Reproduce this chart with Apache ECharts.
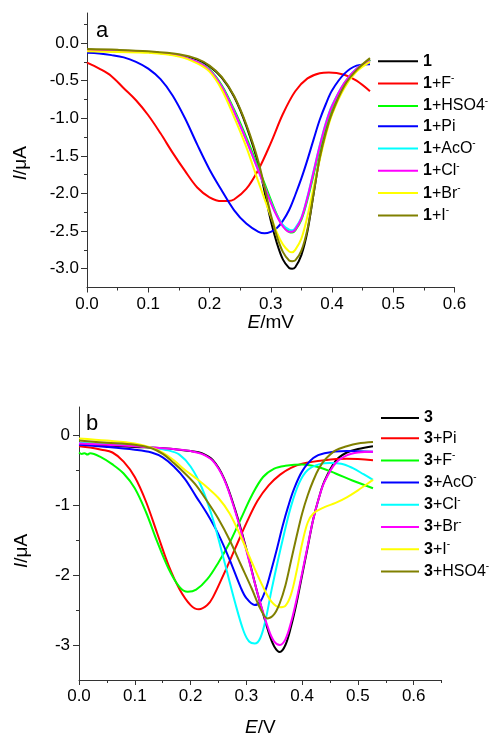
<!DOCTYPE html>
<html>
<head>
<meta charset="utf-8">
<script src="https://cdn.jsdelivr.net/npm/echarts@6.0.0/dist/echarts.min.js"></script>
<style>html,body{margin:0;padding:0;background:#fff}#c{width:493px;height:736px}</style>
</head>
<body>
<div id="c"></div>
<script>
// ---------- Panel a : names, colours, values ----------
const namesA = ['1', '1+F-', '1+HSO4-', '1+Pi', '1+AcO-', '1+Cl-', '1+Br-', '1+I-'];
const a_1 = [[0,-0.09],[0.05,-0.10],[0.10,-0.12],[0.15,-0.16],[0.18,-0.22],[0.20,-0.31],[0.22,-0.46],[0.24,-0.71],[0.26,-1.10],[0.28,-1.62],[0.30,-2.36],[0.31,-2.66],[0.32,-2.88],[0.33,-2.99],[0.335,-3.00],[0.34,-2.98],[0.35,-2.82],[0.36,-2.50],[0.37,-2.00],[0.38,-1.52],[0.39,-1.18],[0.40,-0.93],[0.42,-0.57],[0.44,-0.37],[0.462,-0.22]];
const a_F = [[0,-0.26],[0.02,-0.34],[0.04,-0.44],[0.06,-0.60],[0.08,-0.76],[0.10,-0.96],[0.12,-1.20],[0.14,-1.46],[0.16,-1.70],[0.18,-1.92],[0.20,-2.05],[0.22,-2.10],[0.23,-2.10],[0.24,-2.08],[0.26,-1.94],[0.28,-1.68],[0.30,-1.33],[0.32,-0.94],[0.34,-0.64],[0.36,-0.47],[0.38,-0.40],[0.395,-0.39],[0.42,-0.42],[0.44,-0.50],[0.462,-0.64]];
const a_HSO4 = [[0,-0.10],[0.05,-0.11],[0.10,-0.12],[0.15,-0.17],[0.18,-0.25],[0.20,-0.35],[0.22,-0.56],[0.24,-0.88],[0.26,-1.25],[0.28,-1.66],[0.30,-2.08],[0.31,-2.28],[0.32,-2.43],[0.33,-2.51],[0.335,-2.52],[0.34,-2.49],[0.35,-2.35],[0.36,-2.08],[0.37,-1.75],[0.38,-1.40],[0.39,-1.10],[0.40,-0.86],[0.42,-0.54],[0.44,-0.35],[0.462,-0.22]];
const a_Pi = [[0,-0.13],[0.02,-0.14],[0.04,-0.16],[0.06,-0.19],[0.08,-0.25],[0.10,-0.34],[0.12,-0.48],[0.14,-0.70],[0.16,-1.00],[0.18,-1.35],[0.20,-1.68],[0.22,-1.96],[0.24,-2.22],[0.26,-2.40],[0.28,-2.51],[0.29,-2.53],[0.30,-2.51],[0.31,-2.46],[0.32,-2.36],[0.33,-2.22],[0.34,-2.02],[0.35,-1.80],[0.36,-1.55],[0.37,-1.28],[0.38,-1.02],[0.39,-0.81],[0.40,-0.63],[0.42,-0.41],[0.44,-0.30],[0.462,-0.28]];
const a_AcO = [[0,-0.10],[0.05,-0.11],[0.10,-0.12],[0.15,-0.17],[0.18,-0.25],[0.20,-0.36],[0.22,-0.58],[0.24,-0.91],[0.26,-1.29],[0.28,-1.70],[0.30,-2.11],[0.31,-2.29],[0.32,-2.42],[0.33,-2.48],[0.335,-2.49],[0.34,-2.46],[0.35,-2.32],[0.36,-2.04],[0.37,-1.70],[0.38,-1.36],[0.39,-1.06],[0.40,-0.83],[0.42,-0.53],[0.44,-0.34],[0.462,-0.24]];
const a_Cl = [[0,-0.10],[0.05,-0.11],[0.10,-0.12],[0.15,-0.17],[0.18,-0.25],[0.20,-0.36],[0.22,-0.58],[0.24,-0.91],[0.26,-1.29],[0.28,-1.70],[0.30,-2.12],[0.31,-2.30],[0.32,-2.44],[0.33,-2.51],[0.335,-2.51],[0.34,-2.48],[0.35,-2.33],[0.36,-2.05],[0.37,-1.71],[0.38,-1.37],[0.39,-1.07],[0.40,-0.84],[0.42,-0.53],[0.44,-0.34],[0.462,-0.24]];
const a_Br = [[0,-0.11],[0.05,-0.12],[0.10,-0.13],[0.15,-0.18],[0.18,-0.27],[0.20,-0.38],[0.22,-0.62],[0.24,-0.98],[0.26,-1.38],[0.28,-1.85],[0.30,-2.30],[0.31,-2.52],[0.32,-2.68],[0.33,-2.77],[0.335,-2.78],[0.34,-2.75],[0.35,-2.60],[0.36,-2.30],[0.37,-1.92],[0.38,-1.55],[0.39,-1.22],[0.40,-0.95],[0.42,-0.60],[0.44,-0.38],[0.462,-0.25]];
const a_I = [[0,-0.08],[0.05,-0.09],[0.10,-0.11],[0.15,-0.15],[0.18,-0.21],[0.20,-0.30],[0.22,-0.45],[0.24,-0.70],[0.26,-1.08],[0.28,-1.58],[0.30,-2.28],[0.31,-2.57],[0.32,-2.78],[0.33,-2.89],[0.335,-2.90],[0.34,-2.89],[0.35,-2.76],[0.36,-2.47],[0.37,-2.00],[0.38,-1.53],[0.39,-1.19],[0.40,-0.93],[0.42,-0.57],[0.44,-0.36],[0.462,-0.20]];
const valuesA = [a_1, a_F, a_HSO4, a_Pi, a_AcO, a_Cl, a_Br, a_I];
const colorsA = ['#000000', '#ff0000', '#00ff00', '#0000ff', '#00ffff', '#ff00ff', '#ffff00', '#808000'];

// ---------- Panel b ----------
const namesB = ['3', '3+Pi', '3+F-', '3+AcO-', '3+Cl-', '3+Br-', '3+I-', '3+HSO4-'];
const b_3 = [[0,-0.13],[0.05,-0.15],[0.10,-0.17],[0.15,-0.19],[0.18,-0.21],[0.20,-0.23],[0.22,-0.26],[0.24,-0.36],[0.26,-0.62],[0.28,-1.07],[0.30,-1.63],[0.32,-2.26],[0.34,-2.82],[0.35,-3.02],[0.36,-3.10],[0.37,-3.00],[0.38,-2.74],[0.39,-2.40],[0.40,-2.00],[0.41,-1.60],[0.42,-1.20],[0.43,-0.90],[0.44,-0.66],[0.46,-0.37],[0.48,-0.25],[0.50,-0.20],[0.527,-0.16]];
const b_Pi = [[0,-0.16],[0.02,-0.18],[0.04,-0.21],[0.06,-0.25],[0.08,-0.38],[0.10,-0.60],[0.12,-0.95],[0.14,-1.40],[0.16,-1.85],[0.18,-2.20],[0.20,-2.43],[0.215,-2.49],[0.23,-2.43],[0.24,-2.32],[0.26,-1.98],[0.28,-1.62],[0.30,-1.26],[0.32,-0.94],[0.34,-0.72],[0.36,-0.57],[0.38,-0.47],[0.40,-0.41],[0.44,-0.36],[0.48,-0.34],[0.527,-0.36]];
const b_F = [[0,-0.25],[0.005,-0.27],[0.01,-0.26],[0.015,-0.28],[0.02,-0.26],[0.04,-0.32],[0.06,-0.42],[0.08,-0.55],[0.10,-0.76],[0.12,-1.10],[0.14,-1.52],[0.16,-1.90],[0.18,-2.17],[0.195,-2.24],[0.21,-2.21],[0.23,-2.06],[0.25,-1.82],[0.27,-1.54],[0.29,-1.20],[0.31,-0.86],[0.33,-0.60],[0.35,-0.48],[0.37,-0.44],[0.40,-0.42],[0.43,-0.46],[0.46,-0.55],[0.49,-0.65],[0.527,-0.76]];
const b_AcO = [[0,-0.14],[0.05,-0.17],[0.10,-0.21],[0.13,-0.25],[0.15,-0.32],[0.17,-0.45],[0.19,-0.63],[0.21,-0.88],[0.23,-1.13],[0.25,-1.42],[0.27,-1.78],[0.29,-2.18],[0.30,-2.33],[0.315,-2.43],[0.325,-2.38],[0.335,-2.20],[0.345,-1.92],[0.355,-1.62],[0.365,-1.30],[0.375,-1.02],[0.385,-0.78],[0.40,-0.52],[0.42,-0.33],[0.44,-0.26],[0.48,-0.23],[0.527,-0.24]];
const b_Cl = [[0,-0.11],[0.05,-0.13],[0.10,-0.15],[0.13,-0.18],[0.16,-0.22],[0.18,-0.28],[0.20,-0.45],[0.22,-0.75],[0.24,-1.20],[0.26,-1.79],[0.28,-2.40],[0.295,-2.80],[0.305,-2.95],[0.315,-2.98],[0.325,-2.90],[0.335,-2.62],[0.345,-2.22],[0.355,-1.85],[0.365,-1.50],[0.38,-1.02],[0.395,-0.68],[0.41,-0.50],[0.43,-0.42],[0.45,-0.40],[0.47,-0.41],[0.49,-0.47],[0.51,-0.56],[0.527,-0.64]];
const b_Br = [[0,-0.12],[0.05,-0.14],[0.10,-0.16],[0.15,-0.19],[0.18,-0.21],[0.20,-0.23],[0.22,-0.27],[0.24,-0.37],[0.26,-0.63],[0.28,-1.09],[0.30,-1.65],[0.32,-2.26],[0.34,-2.78],[0.35,-2.95],[0.36,-3.00],[0.37,-2.92],[0.38,-2.68],[0.39,-2.35],[0.40,-1.97],[0.41,-1.58],[0.42,-1.20],[0.43,-0.90],[0.44,-0.67],[0.46,-0.40],[0.48,-0.29],[0.50,-0.25],[0.527,-0.24]];
const b_I = [[0,-0.05],[0.05,-0.08],[0.10,-0.12],[0.13,-0.18],[0.15,-0.25],[0.17,-0.36],[0.19,-0.50],[0.21,-0.62],[0.23,-0.75],[0.25,-0.90],[0.27,-1.12],[0.29,-1.45],[0.31,-1.82],[0.33,-2.17],[0.345,-2.38],[0.36,-2.46],[0.37,-2.44],[0.38,-2.28],[0.39,-1.95],[0.40,-1.55],[0.41,-1.25],[0.42,-1.12],[0.44,-1.03],[0.46,-0.97],[0.48,-0.89],[0.50,-0.79],[0.527,-0.64]];
const b_HSO4 = [[0,-0.08],[0.05,-0.11],[0.10,-0.14],[0.13,-0.19],[0.15,-0.27],[0.17,-0.40],[0.19,-0.55],[0.21,-0.72],[0.23,-0.95],[0.25,-1.20],[0.27,-1.50],[0.29,-1.85],[0.31,-2.20],[0.325,-2.48],[0.338,-2.62],[0.35,-2.56],[0.36,-2.40],[0.37,-2.15],[0.38,-1.80],[0.39,-1.45],[0.40,-1.12],[0.41,-0.86],[0.42,-0.65],[0.43,-0.48],[0.44,-0.36],[0.46,-0.22],[0.48,-0.16],[0.50,-0.12],[0.527,-0.10]];
const valuesB = [b_3, b_Pi, b_F, b_AcO, b_Cl, b_Br, b_I, b_HSO4];
const colorsB = ['#000000', '#ff0000', '#00ff00', '#0000ff', '#00ffff', '#ff00ff', '#ffff00', '#808000'];

// ---------- Tick values ----------
const ticksA_x = [0, 0.1, 0.2, 0.3, 0.4, 0.5, 0.6];
const minorA_x = [0.05, 0.15, 0.25, 0.35, 0.45, 0.55];
const ticksA_y = [-3.0, -2.5, -2.0, -1.5, -1.0, -0.5, 0.0];
const minorA_y = [-2.75, -2.25, -1.75, -1.25, -0.75, -0.25, 0.25];
const ticksB_x = [0, 0.1, 0.2, 0.3, 0.4, 0.5, 0.6];
const minorB_x = [0.05, 0.15, 0.25, 0.35, 0.45, 0.55, 0.65];
const ticksB_y = [-3, -2, -1, 0];
const minorB_y = [-2.5, -1.5, -0.5];

const FONT = 'Liberation Sans, Arial, sans-serif';
const axisLine = { show: true, onZero: false, lineStyle: { color: '#333', width: 1 } };

function legendFmt(name) {
  const m = name.match(/^(\d)(.*?)(-?)$/);
  let s = '{b|' + m[1] + '}';
  if (m[2]) s += '{n|' + m[2] + '}';
  if (m[3]) s += '{s|-}';
  return s;
}
const legendRich = {
  b: { fontWeight: 'bold', fontSize: 16, lineHeight: 20, fontFamily: FONT, color: '#000' },
  n: { fontSize: 16, lineHeight: 20, fontFamily: FONT, color: '#000' },
  s: { fontSize: 10, lineHeight: 10, verticalAlign: 'top', fontFamily: FONT, color: '#000' }
};
const nameRich = {
  i: { fontStyle: 'italic', fontSize: 19, fontFamily: FONT, color: '#000' },
  r: { fontSize: 19, fontFamily: FONT, color: '#000' }
};

function majorX(grid, min, max, vals, nameGap, name) {
  return {
    type: 'value', gridIndex: grid, min: min, max: max, position: 'bottom',
    axisLine: axisLine, splitLine: { show: false },
    axisTick: { show: true, length: 5, customValues: vals, lineStyle: { color: '#333' } },
    axisLabel: { customValues: vals, margin: 8, fontSize: 17, fontFamily: FONT, color: '#000',
                 formatter: v => v.toFixed(1) },
    name: name, nameLocation: 'middle', nameGap: nameGap,
    nameTextStyle: { rich: nameRich, fontSize: 19 }
  };
}
function minorAxis(type, grid, min, max, vals) {
  return {
    type: 'value', gridIndex: grid, min: min, max: max, position: type === 'x' ? 'bottom' : 'left',
    axisLine: { show: false, onZero: false }, splitLine: { show: false }, axisLabel: { show: false },
    axisTick: { show: true, length: 3, customValues: vals, lineStyle: { color: '#333' } }
  };
}
function majorY(grid, min, max, vals, digits, margin, nameGap, pad) {
  return {
    type: 'value', gridIndex: grid, min: min, max: max, position: 'left',
    axisLine: axisLine, splitLine: { show: false },
    axisTick: { show: true, length: 6, customValues: vals, lineStyle: { color: '#333' } },
    axisLabel: { customValues: vals, margin: margin, fontSize: 17, fontFamily: FONT, color: '#000',
                 formatter: v => v.toFixed(digits) },
    name: '{i|I}{r|/μA}', nameLocation: 'middle', nameGap: nameGap, nameRotate: 90,
    nameTextStyle: { rich: nameRich, fontSize: 19, padding: pad }
  };
}

const series = [];
namesA.forEach((n, i) => series.push({
  name: n, type: 'line', xAxisIndex: 0, yAxisIndex: 0, data: valuesA[i], smooth: 0.35,
  showSymbol: false, symbol: 'none', color: colorsA[i], lineStyle: { width: 2, color: colorsA[i] }
}));
namesB.forEach((n, i) => series.push({
  name: n, type: 'line', xAxisIndex: 2, yAxisIndex: 2, data: valuesB[i], smooth: 0.35,
  showSymbol: false, symbol: 'none', color: colorsB[i], lineStyle: { width: 2, color: colorsB[i] }
}));

const option = {
  animation: false,
  backgroundColor: '#fff',
  textStyle: { fontFamily: FONT },
  grid: [
    { left: 87, top: 13, width: 367.5, height: 274.5, containLabel: false, outerBoundsMode: 'none' },
    { left: 79, top: 407, width: 362.6, height: 273, containLabel: false, outerBoundsMode: 'none' }
  ],
  xAxis: [
    majorX(0, 0, 0.6, ticksA_x, 24, '{i|E}{r|/mV}'),
    minorAxis('x', 0, 0, 0.6, minorA_x),
    majorX(1, 0, 0.65, ticksB_x, 38, '{i|E}{r|/V}'),
    minorAxis('x', 1, 0, 0.65, minorB_x)
  ],
  yAxis: [
    majorY(0, -3.25, 0.4, ticksA_y, 1, 8, 57, [0, 26, 0, 0]),
    minorAxis('y', 0, -3.25, 0.4, minorA_y),
    majorY(1, -3.5, 0.4, ticksB_y, 0, 9, 48, [0, 15, 0, 0]),
    minorAxis('y', 1, -3.5, 0.4, minorB_y)
  ],
  legend: [
    { data: namesA, orient: 'vertical', left: 378, top: 53.3, itemWidth: 40, itemHeight: 2, itemGap: 4.3,
      icon: 'rect', formatter: legendFmt, textStyle: { rich: legendRich, fontSize: 16 }, padding: 0,
      selectedMode: false },
    { data: namesB, orient: 'vertical', left: 381, top: 410, itemWidth: 38, itemHeight: 2, itemGap: 4.2,
      icon: 'rect', formatter: legendFmt, textStyle: { rich: legendRich, fontSize: 16 }, padding: 0,
      selectedMode: false }
  ],
  graphic: [
    { type: 'text', x: 96, y: 31, style: { text: 'a', fontSize: 22, fontFamily: FONT, fill: '#000', verticalAlign: 'middle', align: 'left' } },
    { type: 'text', x: 86, y: 424, style: { text: 'b', fontSize: 22, fontFamily: FONT, fill: '#000', verticalAlign: 'middle', align: 'left' } }
  ],
  series: series
};

const chart = echarts.init(document.getElementById('c'), null, { renderer: 'canvas' });
chart.setOption(option);
</script>
</body>
</html>
